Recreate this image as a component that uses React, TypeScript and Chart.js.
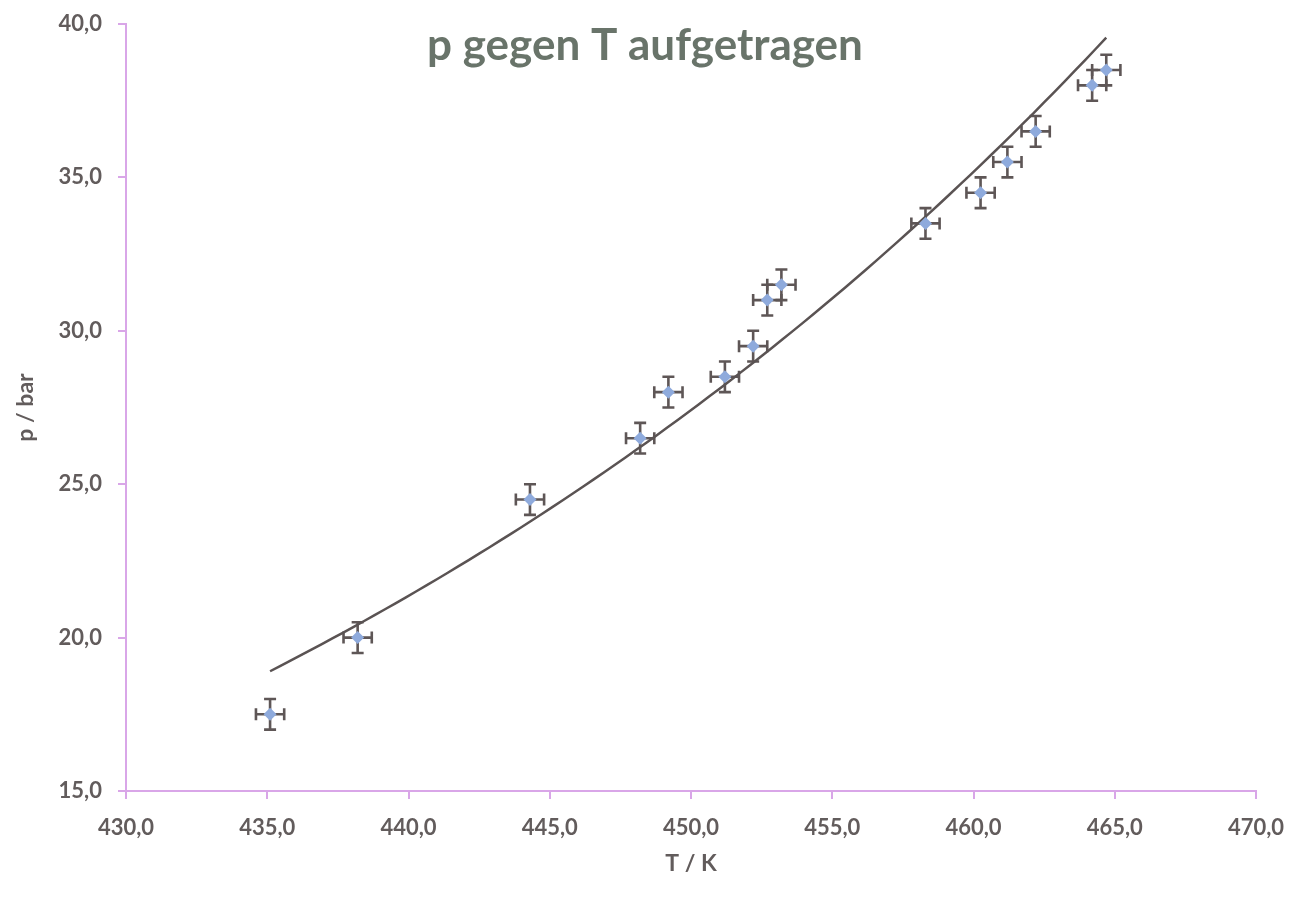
import React, { useEffect, useRef } from "react";
import { Chart, registerables } from "chart.js";

Chart.register(...registerables);

const TITLE = "p gegen T aufgetragen";
const X_TITLE = "T / K";
const Y_TITLE = "p / bar";

const temperatures = [435.1, 438.2, 444.3, 448.2, 449.2, 451.2, 452.2, 452.7, 453.2, 458.3, 460.25, 461.2, 462.2, 464.2, 464.7];
const pressures = [17.5, 20.0, 24.5, 26.5, 28.0, 28.5, 29.5, 31.0, 31.5, 33.5, 34.5, 35.5, 36.5, 38.0, 38.5];
const tErrors = [0.5, 0.5, 0.5, 0.5, 0.5, 0.5, 0.5, 0.5, 0.5, 0.5, 0.5, 0.5, 0.5, 0.5, 0.5];
const pErrors = [0.5, 0.5, 0.5, 0.5, 0.5, 0.5, 0.5, 0.5, 0.5, 0.5, 0.5, 0.5, 0.5, 0.5, 0.5];

const X_MIN = 430, X_MAX = 470, X_STEP = 5;
const Y_MIN = 15, Y_MAX = 40, Y_STEP = 5;

const AXIS_COLOR = "#d9a6e8";
const TEXT_COLOR = "#625c5c";
const ERR_COLOR = "#5e5656";
const MARKER_COLOR = "#8eaadc";
const TREND_COLOR = "#5a5353";
const TITLE_COLOR = "#69746a";

// Exponential trendline (least squares on ln p), like a spreadsheet trendline
function expFit(xs: number[], ys: number[]) {
  const n = xs.length;
  const ls = ys.map((y) => Math.log(y));
  const mx = xs.reduce((a, b) => a + b, 0) / n;
  const ml = ls.reduce((a, b) => a + b, 0) / n;
  let sxy = 0, sxx = 0;
  for (let i = 0; i < n; i++) {
    sxy += (xs[i] - mx) * (ls[i] - ml);
    sxx += (xs[i] - mx) * (xs[i] - mx);
  }
  const b = sxy / sxx;
  const a = ml - b * mx;
  return (x: number) => Math.exp(a + b * x);
}

const fmt = (v: number | string) => Number(v).toFixed(1).replace(".", ",");

export default function App() {
  const ref = useRef<HTMLCanvasElement | null>(null);

  useEffect(() => {
    if (!ref.current) return;
    const f = expFit(temperatures, pressures);
    const tMin = Math.min(...temperatures);
    const tMax = Math.max(...temperatures);
    const trend: { x: number; y: number }[] = [];
    const steps = 80;
    for (let i = 0; i <= steps; i++) {
      const x = tMin + ((tMax - tMin) * i) / steps;
      trend.push({ x, y: f(x) });
    }

    const errorBars = {
      id: "errorBars",
      beforeDatasetsDraw(chart: any) {
        const { ctx, scales } = chart;
        const xs = scales.x, ys = scales.y;
        ctx.save();
        ctx.strokeStyle = ERR_COLOR;
        ctx.lineWidth = 2.6;
        const cap = 6;
        for (let i = 0; i < temperatures.length; i++) {
          const cx = xs.getPixelForValue(temperatures[i]);
          const cy = ys.getPixelForValue(pressures[i]);
          const x0 = xs.getPixelForValue(temperatures[i] - tErrors[i]);
          const x1 = xs.getPixelForValue(temperatures[i] + tErrors[i]);
          const y0 = ys.getPixelForValue(pressures[i] - pErrors[i]);
          const y1 = ys.getPixelForValue(pressures[i] + pErrors[i]);
          ctx.beginPath();
          ctx.moveTo(x0, cy); ctx.lineTo(x1, cy);
          ctx.moveTo(x0, cy - cap); ctx.lineTo(x0, cy + cap);
          ctx.moveTo(x1, cy - cap); ctx.lineTo(x1, cy + cap);
          ctx.moveTo(cx, y0); ctx.lineTo(cx, y1);
          ctx.moveTo(cx - cap, y0); ctx.lineTo(cx + cap, y0);
          ctx.moveTo(cx - cap, y1); ctx.lineTo(cx + cap, y1);
          ctx.stroke();
        }
        ctx.restore();
      },
    };

    const titlePlugin = {
      id: "floatingTitle",
      afterDraw(chart: any) {
        const { ctx } = chart;
        ctx.save();
        ctx.font = "bold 44px Lato";
        ctx.fillStyle = TITLE_COLOR;
        ctx.textAlign = "center";
        ctx.textBaseline = "alphabetic";
        ctx.fillText(TITLE, 645, 60);
        ctx.restore();
      },
    };

    const chart = new Chart(ref.current, {
      type: "scatter",
      data: {
        datasets: [
          {
            label: "Trend",
            type: "line",
            data: trend,
            borderColor: TREND_COLOR,
            borderWidth: 2.5,
            pointRadius: 0,
            fill: false,
            tension: 0,
            order: 2,
          } as any,
          {
            label: "Messwerte",
            data: temperatures.map((t, i) => ({ x: t, y: pressures[i] })),
            pointStyle: "rectRot",
            pointRadius: 6.5,
            backgroundColor: MARKER_COLOR,
            borderColor: MARKER_COLOR,
            borderWidth: 0,
            order: 1,
          },
        ],
      },
      options: {
        animation: false,
        responsive: false,
        maintainAspectRatio: false,
        layout: { padding: { left: 0, right: 44, top: 24, bottom: 0 } },
        plugins: {
          legend: { display: false },
          title: { display: false },
          tooltip: { enabled: false },
        },
        scales: {
          x: {
            type: "linear",
            min: X_MIN,
            max: X_MAX,
            ticks: {
              stepSize: X_STEP,
              callback: (v: any) => fmt(v),
              font: { family: "Lato", size: 22, weight: "bold" },
              color: TEXT_COLOR,
              padding: 16,
              maxRotation: 0,
            },
            grid: {
              drawOnChartArea: false,
              drawTicks: true,
              tickLength: 8,
              color: AXIS_COLOR,
              lineWidth: 2,
            },
            border: { color: AXIS_COLOR, width: 2 },
            title: {
              display: true,
              text: X_TITLE,
              font: { family: "Lato", size: 23, weight: "bold" },
              color: TEXT_COLOR,
              padding: { top: 0, bottom: 20 },
            },
            afterFit(scale: any) {
              scale.height = 106;
              scale.paddingLeft = 0;
              scale.paddingRight = 0;
            },
          },
          y: {
            type: "linear",
            min: Y_MIN,
            max: Y_MAX,
            ticks: {
              stepSize: Y_STEP,
              callback: (v: any) => fmt(v),
              font: { family: "Lato", size: 22, weight: "bold" },
              color: TEXT_COLOR,
              padding: 16,
            },
            grid: {
              drawOnChartArea: false,
              drawTicks: true,
              tickLength: 8,
              color: AXIS_COLOR,
              lineWidth: 2,
            },
            border: { color: AXIS_COLOR, width: 2 },
            title: {
              display: true,
              text: Y_TITLE,
              font: { family: "Lato", size: 23, weight: "bold" },
              color: TEXT_COLOR,
              padding: { top: 12, bottom: 0 },
            },
            afterFit(scale: any) {
              scale.width = 126;
              scale.paddingTop = 0;
              scale.paddingBottom = 0;
            },
          },
        },
      } as any,
      plugins: [errorBars, titlePlugin],
    });
    return () => chart.destroy();
  }, []);

  return (
    <div style={{ position: "absolute", left: 0, top: 0, width: 1300, height: 897, background: "#fff" }}>
      <canvas ref={ref} width={1300} height={897} style={{ width: 1300, height: 897, display: "block" }} />
    </div>
  );
}
